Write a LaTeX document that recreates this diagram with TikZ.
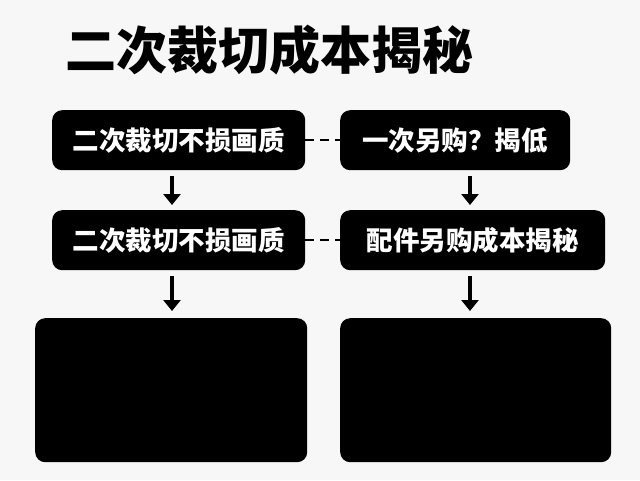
\documentclass[tikz,border=0pt]{standalone}
\usepackage{fontspec}
\newfontfamily\cjk{Noto Sans CJK SC}
\usetikzlibrary{arrows.meta,positioning}
\tikzset{box/.style={fill=black,rounded corners=10pt,text=white,font=\cjk\bfseries\fontsize{26.5}{30}\selectfont,anchor=north west,inner sep=0pt},
  arrow/.style={-{Triangle[length=11pt,width=17pt]},line width=4pt},
  link/.style={line width=2.5pt,dash pattern=on 9pt off 6pt}}
\begin{document}
\begin{tikzpicture}[x=1pt,y=-1pt]
  \useasboundingbox[fill=white!97!black] (0,0) rectangle (640,480);
  \node[font=\cjk\bfseries\fontsize{51}{56}\selectfont,anchor=west] (title) at (62,50) {二次裁切成本揭秘};
  \node[box,minimum width=253pt,minimum height=60pt] (a1) at (52,110) {二次裁切不损画质};
  \node[box,minimum width=230pt,minimum height=60pt] (b1) at (340,110) {一次另购？揭低};
  \node[box,minimum width=253pt,minimum height=60pt] (a2) at (52,210) {二次裁切不损画质};
  \node[box,minimum width=265pt,minimum height=60pt] (b2) at (340,210) {配件另购成本揭秘};
  \node[box,minimum width=272pt,minimum height=144pt] (a3) at (35,318) {};
  \node[box,minimum width=271pt,minimum height=144pt] (b3) at (340,318) {};
  \draw[link] (a1.east) -- (b1.west);
  \draw[link] (a2.east) -- (b2.west);
  \coordinate (p1) at (172,176); \coordinate (q1) at (172,205);
  \coordinate (p2) at (470,176); \coordinate (q2) at (470,205);
  \coordinate (p3) at (172,276); \coordinate (q3) at (172,311);
  \coordinate (p4) at (470,276); \coordinate (q4) at (470,311);
  \foreach \i in {1,...,4} \draw[arrow] (p\i) -- (q\i);
\end{tikzpicture}
\end{document}
